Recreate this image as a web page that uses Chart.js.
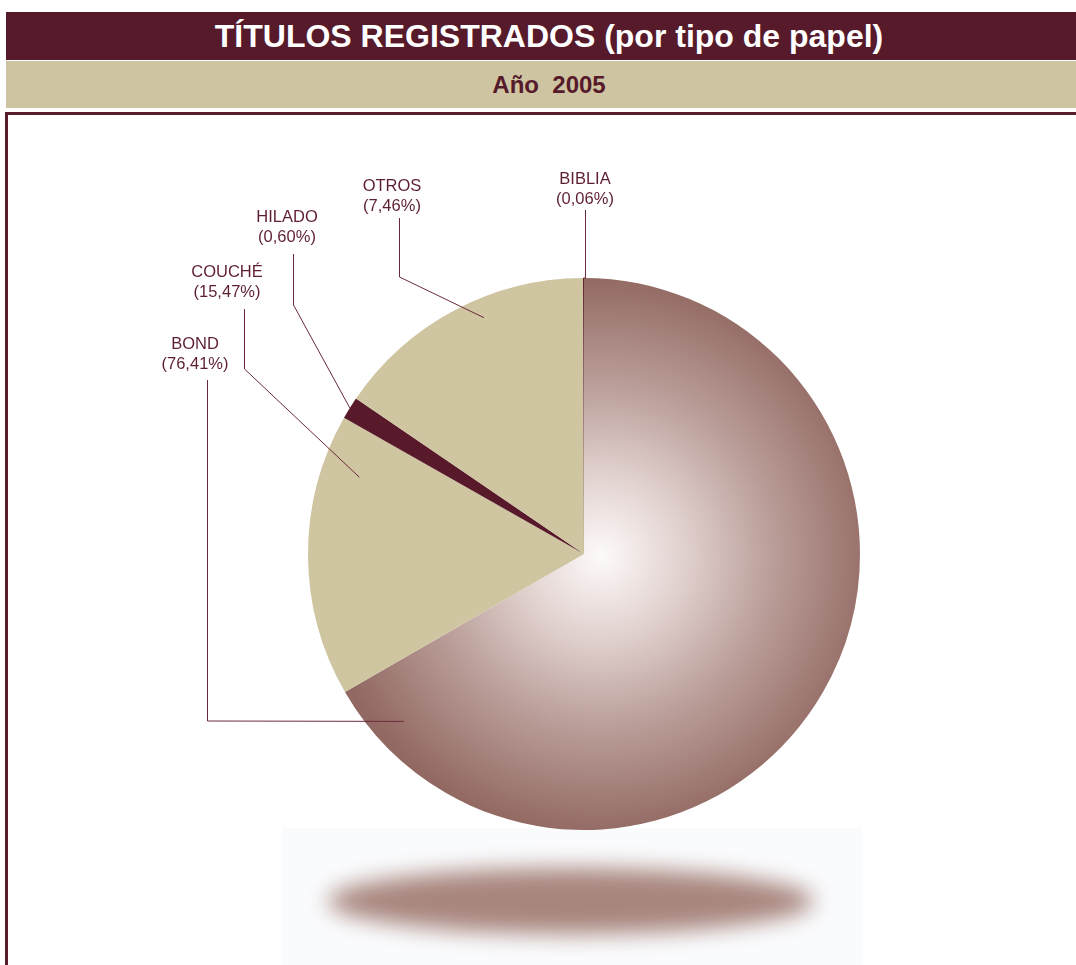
<!DOCTYPE html>
<html>
<head>
<meta charset="utf-8">
<script src="https://cdn.jsdelivr.net/npm/chart.js@4/dist/chart.umd.min.js"></script>
<style>
  html, body { margin: 0; padding: 0; background: #fff; }
  body { width: 1076px; height: 965px; position: relative; overflow: hidden;
         font-family: "Liberation Sans", Arial, sans-serif; }
  .bar1 { position: absolute; left: 6px; top: 12px; width: 1070px; height: 48px;
          background: #561a2a; color: #fff; font-weight: bold; font-size: 32px;
          line-height: 48px; text-align: center; padding-left: 16px; box-sizing: border-box; }
  .bar2 { position: absolute; left: 6px; top: 61px; width: 1070px; height: 47px;
          background: #cfc4a2; color: #561a2a; font-weight: bold; font-size: 24px;
          line-height: 47px; text-align: center; white-space: pre; padding-left: 16px; box-sizing: border-box; }
  .frame { position: absolute; left: 5px; top: 112px; width: 1071px; height: 860px;
           border-top: 3px solid #5a1d2d; border-left: 3px solid #5a1d2d; box-sizing: border-box; }
  #chart { position: absolute; left: 0; top: 0; }
</style>
</head>
<body>
<div class="bar1">TÍTULOS REGISTRADOS (por tipo de papel)</div>
<div class="bar2">Año  2005</div>
<div class="frame"></div>
<canvas id="chart" width="1076" height="965"></canvas>
<script>
// paper types, in drawing order (clockwise from 12 o'clock)
const categories = ['BOND', 'COUCHÉ', 'HILADO', 'OTROS', 'BIBLIA'];
// shares printed on the labels (%)
const reportedShares = [76.41, 15.47, 0.60, 7.46, 0.06];
// slice sizes as drawn in the picture (degrees of the circle)
const sliceDegrees = [240, 59.6, 4.7, 55.5, 0.2];

const beige = '#cfc5a1';
const maroon = '#581a2b';
const textColor = '#5d1f30';
const lineColor = '#6b2a3b';

// leader layout: anchor inside slice (angle fraction, radius fraction),
// label/elbow offsets from pie centre
const leaders = [
  {af: 0.946, rf: 0.89, lx: -389, ly: -210, vx: -377, vtop: -174, ey: 167},
  {af: 0.82,  rf: 0.86, lx: -357, ly: -282, vx: -340, vtop: -245, ey: -185},
  {af: 0.5,   rf: 1.0,  lx: -297, ly: -337, vx: -291, vtop: -300, ey: -249},
  {af: 0.59,  rf: 0.93, lx: -192, ly: -368, vx: -185, vtop: -336, ey: -277},
  {af: 0.5,   rf: 1.0,  lx: 1,    ly: -375, vx: 1,    vtop: -344, ey: -276}
];

function fmt(v) {
  return '(' + v.toFixed(2).replace('.', ',') + '%)';
}

const decor = {
  id: 'decor',
  beforeDatasetsDraw(chart) {
    const arc = chart.getDatasetMeta(0).data[0];
    if (!arc) return;
    const c = chart.ctx, cx = arc.x, cy = arc.y, r = arc.outerRadius;
    // shaded BOND slice
    const g = c.createRadialGradient(cx + 17, cy + 2, 0, cx + 17, cy + 2, r * 1.02);
    g.addColorStop(0, '#fdfafa');
    g.addColorStop(0.3, '#e0d0cd');
    g.addColorStop(0.6, '#bb9f9a');
    g.addColorStop(1, '#926862');
    arc.options.backgroundColor = g;
    // floor shadow
    c.save();
    c.fillStyle = '#fafbfd';
    c.fillRect(cx - 302, cy + 274, 580, chart.height - (cy + 274));
    c.filter = 'blur(11px)';
    c.fillStyle = '#a8867e';
    c.beginPath();
    c.ellipse(cx - 13, cy + 347, r * 0.88, 33, 0, 0, Math.PI * 2);
    c.fill();
    c.restore();
  },
  afterDraw(chart) {
    const meta = chart.getDatasetMeta(0);
    const c = chart.ctx;
    c.save();
    c.font = '16.5px "Liberation Sans", Arial, sans-serif';
    c.textAlign = 'center';
    c.textBaseline = 'middle';
    meta.data.forEach((arc, i) => {
      const L = leaders[i];
      const cx = arc.x, cy = arc.y;
      const a = arc.startAngle + L.af * (arc.endAngle - arc.startAngle);
      const ax = cx + Math.cos(a) * arc.outerRadius * L.rf;
      const ay = cy + Math.sin(a) * arc.outerRadius * L.rf;
      c.strokeStyle = lineColor;
      c.lineWidth = 1;
      c.beginPath();
      c.moveTo(cx + L.vx + 0.5, cy + L.vtop);
      c.lineTo(cx + L.vx + 0.5, cy + L.ey);
      c.lineTo(ax, ay);
      c.stroke();
      c.fillStyle = textColor;
      c.fillText(categories[i], cx + L.lx, cy + L.ly);
      c.fillText(fmt(reportedShares[i]), cx + L.lx, cy + L.ly + 20);
    });
    c.restore();
  }
};

new Chart(document.getElementById('chart'), {
  type: 'pie',
  data: {
    labels: categories,
    datasets: [{
      data: sliceDegrees,
      backgroundColor: ['#a07d77', beige, maroon, beige, maroon],
      borderWidth: 0
    }]
  },
  options: {
    responsive: false,
    animation: false,
    layout: { padding: { left: 308, right: 216, top: 278, bottom: 135 } },
    plugins: { legend: { display: false }, tooltip: { enabled: false } }
  },
  plugins: [decor]
});
</script>
</body>
</html>
